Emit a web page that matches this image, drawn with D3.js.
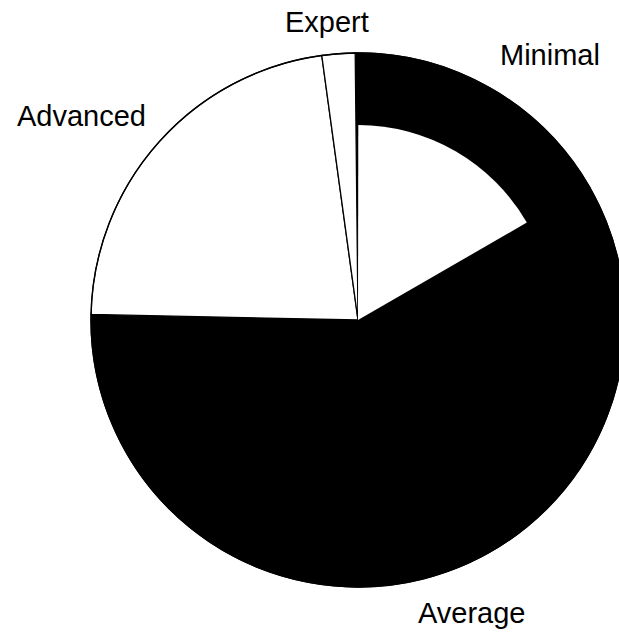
<!DOCTYPE html>
<html>
<head>
<meta charset="utf-8">
<script src="https://cdn.jsdelivr.net/npm/d3@7"></script>
<style>
  html, body { margin: 0; padding: 0; background: #fff; overflow: hidden; }
  svg { display: block; }
  text { font-family: "Liberation Sans", Arial, Helvetica, sans-serif; fill: #000; }
</style>
</head>
<body>
<svg id="chart" width="619" height="639"></svg>
<script>
// ---- data ----
const categories = ["Minimal", "Average", "Advanced", "Expert"];
const shares = [16.9, 58.6, 22.5, 2.0];
const fills = ["#000", "#000", "#fff", "#fff"];

// ---- layout ----
const W = 619, H = 639;
const cx = 358, cy = 320, R = 267;
const labelPos = {
  Minimal: [500, 65],
  Average: [418, 623],
  Advanced: [17, 126],
  Expert: [285, 32]
};

const svg = d3.select("#chart");
const g = svg.append("g").attr("transform", `translate(${cx},${cy})`);

const data = categories.map((c, i) => ({ name: c, value: shares[i], fill: fills[i] }));
const startOffset = -0.6 * Math.PI / 180;
const pie = d3.pie().value(d => d.value).sort(null)
  .startAngle(startOffset).endAngle(2 * Math.PI + startOffset);
const arcs = pie(data);
const arc = d3.arc().innerRadius(0).outerRadius(R);

g.selectAll("path.slice").data(arcs).join("path")
  .attr("class", "slice")
  .attr("d", arc)
  .attr("fill", d => d.data.fill)
  .attr("stroke", "#000")
  .attr("stroke-width", 1.3)
  .attr("stroke-linejoin", "miter");

// light inner patch in the first slice (as printed in the source)
const inner = d3.arc().innerRadius(0).outerRadius(R * 0.73);
g.selectAll("path.patch").data(arcs.filter(d => d.data.name === "Minimal")).join("path")
  .attr("class", "patch")
  .attr("d", d => inner({ startAngle: d.startAngle + 0.012, endAngle: d.endAngle - 0.004 }))
  .attr("fill", "#fff");

// outer ring
g.append("circle").attr("r", R).attr("fill", "none").attr("stroke", "#000").attr("stroke-width", 1.3);

svg.selectAll("text.label").data(categories).join("text")
  .attr("class", "label")
  .attr("x", d => labelPos[d][0])
  .attr("y", d => labelPos[d][1])
  .attr("font-size", 29)
  .text(d => d);
</script>
</body>
</html>
